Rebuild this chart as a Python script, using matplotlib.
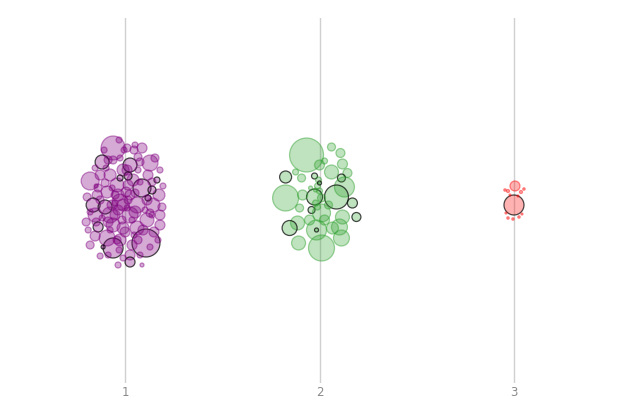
import matplotlib
matplotlib.use("Agg")
import matplotlib.pyplot as plt
from matplotlib.colors import to_rgba

categories = [1, 2, 3]
tick_labels = ["1", "2", "3"]

# group 1 (purple): jitter from category centre, value, bubble size, outlined flag
g1_jitter = [-12, 21, -12, -35, -23, 5, 25, 17, 30, 13, 17, 32, 34, -28, -18, -32, -20, -5, 12, 28,
             35, -30, -15, 5, 22, 35, -27, -12, 12, -30, -18, 5, 5, -22, 2, -2, -15, -8, 8, 1,
             -12, -5, 10, 23, -25, -38, -39, -35, -5, 0, 13, 29, 37, 27, 38, -7, 3, -3, -10, 10,
             -20, 3, 13, -15, -25, -2, 15, -6, -30, 20, -5, 7, -23, 25, -17, 33, -37, 23, -1, 9,
             -10, 2, -13, 15, -19, -35, 27, -7, 17, -29,
             -7, 3, -13, 10, -2, 18, -25, -17, 7, -8, 22, -17, 15, -2, 5, -10, -27, 27, 25, -29,
             2, 9, -6, -21, 35]
g1_value = [235, 140, 135, 202, 221, 218, 220, 235, 225, 226, 195, 203, 188, 188, 191, 178, 176, 181, 178, 178,
            168, 168, 168, 168, 163, 158, 156, 158, 155, 147, 145, 128, 121, 136, 235, 213, 208, 198, 203, 191,
            223, 225, 238, 208, 208, 186, 161, 138, 143, 151, 143, 151, 176, 193, 197, 173, 183, 163, 188, 190,
            200, 207, 213, 153, 127, 125, 128, 133, 215, 173, 205, 163, 165, 136, 128, 143, 153, 185, 233, 148,
            180, 175, 195, 201, 215, 171, 168, 118, 118, 197,
            188, 198, 178, 171, 155, 153, 183, 161, 138, 143, 183, 223, 221, 178, 188, 168, 195, 201, 170, 161,
            213, 233, 243, 233, 213]
g1_size = [12, 14, 10, 9, 7, 7, 8, 5, 4, 4, 9, 3, 6, 5, 6, 7, 7, 8, 8, 7,
           5, 7, 8, 8, 7, 5, 5, 7, 7, 5, 8, 5, 5, 2, 4, 6, 6, 7, 6, 5,
           4, 3, 3, 5, 5, 4, 4, 4, 6, 5, 4, 5, 4, 4, 3, 5, 4, 4, 4, 4,
           4, 4, 3, 3, 3, 3, 3, 3, 3, 3, 3, 3, 3, 3, 3, 3, 3, 3, 3, 3,
           3, 3, 3, 3, 3, 3, 3, 3, 2, 2,
           6, 5, 5, 6, 6, 5, 4, 5, 5, 4, 5, 4, 4, 6, 5, 5, 4, 4, 4, 4,
           5, 4, 3, 3, 3]
g1_outline = [0, 1, 1, 0, 1, 1, 0, 0, 0, 0, 1, 1, 0, 0, 0, 1, 1, 0, 0, 0,
              0, 0, 0, 0, 0, 0, 1, 0, 0, 0, 0, 0, 1, 1, 0, 0, 0, 0, 0, 0,
              0, 0, 0, 0, 0, 0, 0, 0, 0, 0, 0, 0, 0, 1, 0, 0, 0, 0, 0, 0,
              0, 1, 0, 0, 0, 0, 0, 0, 0, 0, 1, 0, 0, 0, 0, 0, 0, 1, 0, 0,
              0, 0, 0, 0, 0, 0, 0, 0, 0, 0,
              0, 0, 0, 0, 0, 0, 0, 0, 0, 0, 0, 0, 0, 0, 0, 0, 0, 0, 0, 0,
              0, 0, 0, 0, 0]

# group 2 (green)
g2_jitter = [-13, 12, 21, 23, 28, -34, 12, 22, 25, -34, 17, -5, -5, 33, 37, -8, 2, 23, -22, -30,
             -3, -3, 20, 22, -21, 2, 13, -24, -18, -1, -2, 0, -4, -2, -9, 2, 5, -10, 9, -17,
             -20, -4, 0, 0, 5]
g2_value = [228, 236, 230, 219, 210, 206, 211, 205, 196, 185, 186, 186, 207, 180, 166, 173, 170, 166, 160, 155,
            153, 153, 156, 145, 140, 135, 155, 211, 205, 203, 197, 192, 180, 176, 195, 185, 163, 163, 178, 188,
            175, 193, 200, 218, 222]
g2_size = [17, 4, 4.5, 5, 4.5, 6, 7, 4, 10, 13, 12, 8, 3, 5, 4.5, 3.5, 9, 7, 7, 7.5,
           10, 2, 8, 8, 7, 13, 6, 3, 4, 3, 3, 3, 3, 3, 2, 4, 5, 5, 4, 5,
           4, 2, 2, 5, 3]
g2_outline = [0, 0, 0, 0, 0, 1, 0, 1, 0, 0, 1, 1, 1, 1, 1, 1, 0, 0, 0, 1,
              0, 1, 0, 0, 0, 0, 0, 0, 0, 0, 0, 0, 0, 0, 0, 0, 0, 0, 0, 0,
              0, 0, 1, 0, 0]

# group 3 (red)
g3_jitter = [0, 1, -6, 7, -9, 10, -4, 4, -6, -1, 5, 8, -8]
g3_value = [178, 197, 192, 191, 193, 194, 188, 187, 165, 164, 166, 169, 170]
g3_size = [10, 5, 1.5, 1.5, 1.2, 1.2, 1, 1, 1.2, 1.2, 1.2, 1, 1]
g3_outline = [1, 0, 0, 0, 0, 0, 0, 0, 0, 0, 0, 0, 0]

groups = [
    (g1_jitter, g1_value, g1_size, g1_outline, "purple", 0.33),
    (g2_jitter, g2_value, g2_size, g2_outline, "tab:green", 0.3),
    (g3_jitter, g3_value, g3_size, g3_outline, "red", 0.3),
]

fig = plt.figure(figsize=(6.4, 4), dpi=100)
ax = fig.add_axes([0, 0.0425, 1, 0.9125])

for cat, (jit, val, size, outl, col, alpha) in zip(categories, groups):
    xs = [cat + j / 195 for j in jit]
    ss = [(1.44 * r) ** 2 for r in size]
    face = to_rgba(col, alpha)
    edges = [to_rgba("black", 0.7) if o else to_rgba(col, 0.45) for o in outl]
    ax.scatter(xs, val, s=ss, facecolors=face, edgecolors=edges, linewidths=0.9, zorder=3)

ax.set_xlim(0.357, 3.648)
ax.set_ylim(0, 365)
ax.set_xticks(categories)
ax.set_xticklabels(tick_labels)
ax.set_yticks([])
ax.grid(axis="x", color="#d0d0d0", linewidth=1)
ax.set_axisbelow(True)
for sp in ax.spines.values():
    sp.set_visible(False)
ax.tick_params(axis="x", length=0, pad=2, labelsize=8.5, labelcolor="#8a8a8a")

fig.savefig("out.png", dpi=100)
